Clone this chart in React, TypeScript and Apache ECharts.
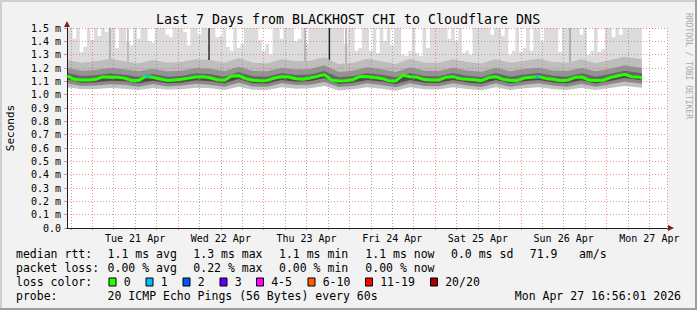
import React, { useEffect, useRef } from 'react';
import * as echarts from 'echarts';

const MONO = '"DejaVu Sans Mono", monospace';

const TITLE = 'Last 7 Days from BLACKHOST CHI to Cloudflare DNS';
const Y_NAME = 'Seconds';
const WATERMARK = 'RRDTOOL / TOBI OETIKER';

// x values are hours since Mon 20 Apr 2026 00:00
const START_HOUR = 16 + 56 / 60 + 1 / 3600;
const END_HOUR = START_HOUR + 168;

const dayLabels = ['Tue 21 Apr', 'Wed 22 Apr', 'Thu 23 Apr', 'Fri 24 Apr', 'Sat 25 Apr', 'Sun 26 Apr', 'Mon 27 Apr'];
const dayLabelHours = [36, 60, 84, 108, 132, 156, 180];

// median rtt (ms)
const medianHours = [
  17, 19, 21, 23, 25, 27, 29, 31, 33, 35, 37, 39, 41, 43, 45, 47, 49, 51, 53, 55,
  57, 59, 61, 63, 65, 67, 69, 71, 73, 75, 77, 79, 81, 83, 85, 87, 89, 91, 93, 95,
  97, 99, 101, 103, 105, 107, 109, 111, 113, 115, 117, 119, 121, 123, 125, 127, 129, 131, 133, 135,
  137, 139, 141, 143, 145, 147, 149, 151, 153, 155, 157, 159, 161, 163, 165, 167, 169, 171, 173, 175,
  177, 177.9,
];
const medianMs = [
  1.14, 1.115, 1.11, 1.11, 1.115, 1.133, 1.13, 1.13, 1.124, 1.106, 1.107, 1.137, 1.13, 1.117, 1.107, 1.11, 1.115, 1.124, 1.133, 1.135,
  1.127, 1.112, 1.108, 1.14, 1.142, 1.12, 1.108, 1.105, 1.107, 1.125, 1.135, 1.132, 1.12, 1.115, 1.125, 1.137, 1.15, 1.11, 1.103, 1.104,
  1.112, 1.137, 1.135, 1.128, 1.122, 1.105, 1.103, 1.145, 1.135, 1.13, 1.113, 1.11, 1.11, 1.13, 1.135, 1.12, 1.115, 1.112, 1.105, 1.128,
  1.135, 1.115, 1.107, 1.107, 1.125, 1.13, 1.135, 1.122, 1.115, 1.107, 1.108, 1.128, 1.133, 1.11, 1.106, 1.108, 1.128, 1.14, 1.152, 1.135,
  1.132, 1.125,
];

// highest ping of each step (smoke top), ms
const maxHours = [
  17, 18, 19, 20, 21, 22, 23, 24, 25, 26, 27, 28, 29, 30, 31, 32, 33, 34, 35, 36,
  37, 38, 39, 40, 41, 42, 43, 44, 45, 46, 47, 48, 49, 50, 51, 52, 53, 54, 55, 56,
  57, 58, 59, 60, 61, 62, 63, 64, 65, 66, 67, 68, 69, 70, 71, 72, 73, 74, 75, 76,
  77, 78, 79, 80, 81, 82, 83, 84, 85, 86, 87, 88, 89, 90, 91, 92, 93, 94, 95, 96,
  97, 98, 99, 100, 101, 102, 103, 104, 105, 106, 107, 108, 109, 110, 111, 112, 113, 114, 115, 116,
  117, 118, 119, 120, 121, 122, 123, 124, 125, 126, 127, 128, 129, 130, 131, 132, 133, 134, 135, 136,
  137, 138, 139, 140, 141, 142, 143, 144, 145, 146, 147, 148, 149, 150, 151, 152, 153, 154, 155, 156,
  157, 158, 159, 160, 161, 162, 163, 164, 165, 166, 167, 168, 169, 170, 171, 172, 173, 174, 175, 176,
  177, 177.9,
];
const maxMs = [
  1.6, 1.6, 1.42, 1.6, 1.32, 1.36, 1.6, 1.41, 1.6, 1.44, 1.6, 1.47, 1.6, 1.6, 1.35, 1.6, 1.6, 1.4, 1.37, 1.6,
  1.42, 1.6, 1.6, 1.4, 1.39, 1.6, 1.6, 1.6, 1.45, 1.43, 1.6, 1.6, 1.6, 1.47, 1.37, 1.6, 1.6, 1.45, 1.6, 1.6,
  1.6, 1.6, 1.43, 1.44, 1.6, 1.36, 1.33, 1.6, 1.35, 1.38, 1.6, 1.6, 1.6, 1.6, 1.41, 1.33, 1.38, 1.3, 1.6, 1.6,
  1.42, 1.6, 1.6, 1.6, 1.4, 1.42, 1.6, 1.38, 1.6, 1.6, 1.6, 1.6, 1.6, 1.6, 1.6, 1.6, 1.6, 1.6, 1.38, 1.6,
  1.6, 1.33, 1.35, 1.6, 1.6, 1.33, 1.6, 1.31, 1.6, 1.4, 1.6, 1.37, 1.6, 1.6, 1.3, 1.29, 1.33, 1.6, 1.31, 1.29,
  1.6, 1.35, 1.6, 1.6, 1.6, 1.6, 1.6, 1.42, 1.6, 1.4, 1.6, 1.31, 1.33, 1.3, 1.6, 1.6, 1.6, 1.6, 1.6, 1.45,
  1.6, 1.6, 1.44, 1.6, 1.3, 1.33, 1.6, 1.32, 1.35, 1.6, 1.33, 1.6, 1.6, 1.4, 1.6, 1.6, 1.6, 1.6, 1.32, 1.6,
  1.6, 1.6, 1.6, 1.6, 1.45, 1.6, 1.3, 1.33, 1.6, 1.32, 1.34, 1.6, 1.6, 1.43, 1.6, 1.45, 1.6, 1.6, 1.6, 1.6,
  1.6, 1.6,
];

// smoke band boundaries, ms
const bandHours = [
  17, 21, 25, 29, 33, 37, 41, 45, 49, 53, 57, 61, 65, 69, 73, 77, 81, 85, 89, 93,
  97, 101, 105, 109, 113, 117, 121, 125, 129, 133, 137, 141, 145, 149, 153, 157, 161, 165, 169, 173,
  177.9,
];
const upperMidMs = [
  1.26, 1.24, 1.25, 1.27, 1.25, 1.235, 1.26, 1.24, 1.245, 1.265, 1.26, 1.24, 1.275, 1.24, 1.235, 1.265, 1.25, 1.255, 1.28, 1.23,
  1.24, 1.27, 1.25, 1.23, 1.27, 1.24, 1.24, 1.265, 1.245, 1.235, 1.265, 1.24, 1.255, 1.27, 1.245, 1.24, 1.265, 1.235, 1.26, 1.285,
  1.265,
];
const upperDarkMs = [
  1.2, 1.18, 1.185, 1.2, 1.19, 1.175, 1.195, 1.175, 1.18, 1.2, 1.195, 1.175, 1.21, 1.178, 1.175, 1.2, 1.188, 1.192, 1.22, 1.17,
  1.18, 1.205, 1.19, 1.17, 1.205, 1.18, 1.178, 1.202, 1.182, 1.172, 1.202, 1.175, 1.192, 1.202, 1.182, 1.178, 1.2, 1.175, 1.195, 1.22,
  1.2,
];
const upperNearMs = [
  1.165, 1.14, 1.145, 1.16, 1.15, 1.135, 1.155, 1.135, 1.14, 1.16, 1.155, 1.135, 1.17, 1.138, 1.135, 1.162, 1.148, 1.152, 1.178, 1.13,
  1.14, 1.162, 1.15, 1.13, 1.162, 1.14, 1.138, 1.162, 1.142, 1.132, 1.162, 1.135, 1.152, 1.162, 1.142, 1.135, 1.16, 1.135, 1.155, 1.18,
  1.16,
];
const lowerNearMs = [
  1.115, 1.09, 1.092, 1.105, 1.1, 1.085, 1.105, 1.085, 1.09, 1.108, 1.1, 1.085, 1.118, 1.085, 1.084, 1.11, 1.096, 1.1, 1.125, 1.08,
  1.09, 1.11, 1.098, 1.08, 1.11, 1.09, 1.088, 1.11, 1.092, 1.082, 1.11, 1.085, 1.1, 1.11, 1.092, 1.085, 1.108, 1.083, 1.103, 1.125,
  1.108,
];
const lowerMidMs = [
  1.085, 1.065, 1.068, 1.078, 1.075, 1.06, 1.08, 1.062, 1.068, 1.082, 1.075, 1.06, 1.09, 1.062, 1.06, 1.085, 1.072, 1.075, 1.095, 1.058,
  1.065, 1.085, 1.072, 1.055, 1.085, 1.065, 1.063, 1.085, 1.068, 1.058, 1.085, 1.06, 1.075, 1.085, 1.068, 1.06, 1.082, 1.06, 1.078, 1.098,
  1.082,
];
const lowestMs = [
  1.055, 1.04, 1.042, 1.05, 1.045, 1.035, 1.05, 1.038, 1.04, 1.052, 1.048, 1.035, 1.06, 1.037, 1.035, 1.055, 1.045, 1.048, 1.065, 1.032,
  1.04, 1.055, 1.045, 1.03, 1.055, 1.04, 1.038, 1.055, 1.042, 1.033, 1.055, 1.035, 1.048, 1.055, 1.042, 1.035, 1.052, 1.035, 1.05, 1.065,
  1.052,
];

// single steps with a very wide spread (dark smoke columns)
const spikeHours = [28.97, 34.0, 56.7, 83.6, 90.4, 95.05, 157.8];
const spikeTopMs = [1.5, 1.5, 1.5, 1.5, 1.5, 1.5, 1.5];
const spikeShades = ['#a6a6a6', '#b4b4b4', '#2a2a2a', '#a8a8a8', '#262626', '#a8a8a8', '#a0a0a0'];

// steps with 1/20 loss (median drawn blue)
const lossHours = [39.4, 148.6];
const lossMedianMs = [1.14, 1.134];

const lossLabels = ['0', '1', '2', '3', '4-5', '6-10', '11-19', '20/20'];
const lossColors = ['#26ff00', '#00b8ff', '#0059ff', '#5e00ff', '#ff00ff', '#ff5e00', '#ff0000', '#a10000'];
const lossBoxX = [109, 146, 183, 220, 256.5, 308, 365.5, 430.5];

const rttStats = ['1.1 ms avg', '1.3 ms max', '1.1 ms min', '1.1 ms now', '0.0 ms sd', '71.9', 'am/s'];
const rttStatX = [107.6, 193.3, 279, 365.3, 451, 529.8, 579];
const lossStats = ['0.00 % avg', '0.22 % max', '0.00 % min', '0.00 % now'];
const probeText = '20 ICMP Echo Pings (56 Bytes) every 60s';
const stampText = 'Mon Apr 27 16:56:01 2026';

const GRID_COLOR = 'rgba(143,143,143,0.75)';
const MGRID_COLOR = 'rgba(222,79,79,0.6)';
const ARROW_COLOR = '#801f1f';
const AXIS_COLOR = '#1f1f1f';

const pairs = (xs: number[], ys: number[]) => xs.map((x, i) => [x, ys[i]]);

function areaSeries(name: string, xs: number[], ys: number[], color: string, z: number, step?: string) {
  return {
    type: 'line',
    name,
    data: pairs(xs, ys),
    symbol: 'none',
    showSymbol: false,
    step: step || false,
    silent: true,
    z,
    lineStyle: { width: 0, color, opacity: 0 },
    areaStyle: { color, opacity: 1 },
  };
}

const minorHours: number[] = [];
for (let h = 18; h < END_HOUR; h += 6) if (h % 24 !== 0) minorHours.push(h);
const majorHours: number[] = [];
for (let h = 24; h < END_HOUR; h += 24) majorHours.push(h);
majorHours.push(END_HOUR);

function txt(text: string, x: number, y: number, size: number, extra: any = {}, styleExtra: any = {}) {
  return {
    type: 'text',
    x,
    y,
    silent: true,
    z: 20,
    ...extra,
    style: {
      text,
      fill: '#000',
      fontSize: size,
      fontFamily: MONO,
      textAlign: 'left',
      textVerticalAlign: 'middle',
      ...styleExtra,
    },
  };
}

function buildOption() {
  const graphic: any[] = [
    { type: 'rect', shape: { x: 0, y: 0, width: 697, height: 2 }, style: { fill: '#cfcfcf' }, silent: true, z: 20 },
    { type: 'rect', shape: { x: 0, y: 0, width: 2, height: 310 }, style: { fill: '#cfcfcf' }, silent: true, z: 20 },
    { type: 'rect', shape: { x: 0, y: 308, width: 697, height: 2 }, style: { fill: '#9e9e9e' }, silent: true, z: 21 },
    { type: 'rect', shape: { x: 695, y: 0, width: 2, height: 310 }, style: { fill: '#9e9e9e' }, silent: true, z: 21 },
    txt(TITLE, 348, 19, 13.3, {}, { textAlign: 'center' }),
    txt(Y_NAME, 10, 128, 11, { rotation: Math.PI / 2 }, { textAlign: 'center' }),
    txt(WATERMARK, 688, 13, 8, { rotation: -Math.PI / 2 }, { fill: '#a8a8a8' }),
    txt('median rtt:', 16, 254, 11.5),
    txt('packet loss:', 16, 268, 11.5),
    txt('loss color:', 16, 282, 11.5),
    txt('probe:', 16, 296, 11.5),
    txt(probeText, 107.6, 296, 11.5),
    txt(stampText, 681, 296, 11.5, {}, { textAlign: 'right' }),
  ];
  rttStats.forEach((s, i) => graphic.push(txt(s, rttStatX[i], 254, 11.5)));
  lossStats.forEach((s, i) => graphic.push(txt(s, rttStatX[i], 268, 11.5)));
  lossLabels.forEach((s, i) => {
    graphic.push({
      type: 'rect',
      shape: { x: lossBoxX[i], y: 278, width: 7, height: 8 },
      style: { fill: lossColors[i], stroke: '#000', lineWidth: 1 },
      silent: true,
      z: 20,
    });
    graphic.push(txt(s, lossBoxX[i] + 14.7, 282, 11.5));
  });

  const xBase = { type: 'value', position: 'bottom', min: START_HOUR, max: END_HOUR, gridIndex: 0 };
  const yBase = { type: 'value', position: 'left', min: 0, max: 1.5, gridIndex: 0 };

  return {
    animation: false,
    backgroundColor: '#f2f2f2',
    grid: {
      left: 67, top: 28, width: 600, height: 200,
      show: true, backgroundColor: '#ffffff', borderWidth: 0,
      containLabel: false, outerBoundsMode: 'none',
    },
    xAxis: [
      {
        ...xBase, z: 5,
        axisLine: { show: false },
        axisLabel: { show: false },
        axisTick: { show: true, length: 2, customValues: minorHours, lineStyle: { color: GRID_COLOR } },
        splitLine: { show: true, lineStyle: { color: GRID_COLOR, width: 1, type: [1, 2] } },
      },
      {
        ...xBase, z: 6,
        axisLine: {
          show: true, symbol: ['none', 'triangle'], symbolSize: [6, 6], symbolOffset: [0, 4],
          lineStyle: { color: ARROW_COLOR, width: 1 },
        },
        axisLabel: { show: false },
        axisTick: { show: true, length: 2, customValues: majorHours, lineStyle: { color: MGRID_COLOR } },
        splitLine: { show: true, lineStyle: { color: MGRID_COLOR, width: 1, type: [1, 2] } },
      },
      {
        ...xBase, z: 7,
        axisLine: { show: true, lineStyle: { color: AXIS_COLOR, width: 1 } },
        axisTick: { show: false },
        splitLine: { show: false },
        axisLabel: {
          show: true,
          customValues: dayLabelHours,
          formatter: (v: number) => {
            const i = dayLabelHours.indexOf(Math.round(v));
            return i >= 0 ? dayLabels[i] : '';
          },
          margin: 5,
          fontSize: 10,
          fontFamily: MONO,
          color: '#000',
        },
      },
    ],
    yAxis: [
      {
        ...yBase, interval: 0.1, z: 7,
        axisLine: { show: true, lineStyle: { color: AXIS_COLOR, width: 1 } },
        axisTick: { show: true, length: 3, lineStyle: { color: MGRID_COLOR } },
        axisLabel: {
          margin: 6, fontSize: 10, fontFamily: MONO, color: '#000',
          formatter: (v: number) => (Math.abs(v) < 1e-9 ? '0.0' : v.toFixed(1) + ' m'),
        },
        splitLine: { show: true, lineStyle: { color: MGRID_COLOR, width: 1, type: [1, 2] } },
      },
      {
        ...yBase, z: 6,
        axisLine: {
          show: true, symbol: ['none', 'triangle'], symbolSize: [6, 6], symbolOffset: [0, 4],
          lineStyle: { color: ARROW_COLOR, width: 1 },
        },
        axisTick: { show: false },
        axisLabel: { show: false },
        splitLine: { show: false },
      },
    ],
    series: [
      areaSeries('max', maxHours, maxMs, '#dcdcdc', 1, 'middle'),
      {
        type: 'bar',
        name: 'spikes',
        barWidth: 1.5,
        silent: true,
        z: 2,
        data: spikeHours.map((h, i) => ({ value: [h, spikeTopMs[i]], itemStyle: { color: spikeShades[i] } })),
      },
      areaSeries('upperMid', bandHours, upperMidMs, '#bdbdbd', 3),
      areaSeries('upperDark', bandHours, upperDarkMs, '#939393', 3),
      areaSeries('upperNear', bandHours, upperNearMs, '#676767', 3),
      areaSeries('medianFill', medianHours, medianMs, '#4c4c4c', 3),
      areaSeries('lowerNear', bandHours, lowerNearMs, '#8a8a8a', 3),
      areaSeries('lowerMid', bandHours, lowerMidMs, '#c2c2c2', 3),
      areaSeries('lowest', bandHours, lowestMs, '#ffffff', 3),
      {
        type: 'line',
        name: 'median',
        data: pairs(medianHours, medianMs),
        symbol: 'none',
        showSymbol: false,
        silent: true,
        z: 8,
        lineStyle: { width: 3, color: '#26ff00' },
      },
      {
        type: 'scatter',
        name: 'loss1',
        data: pairs(lossHours, lossMedianMs),
        symbol: 'rect',
        symbolSize: [4, 3],
        silent: true,
        z: 9,
        itemStyle: { color: '#00b8ff' },
      },
    ],
    graphic,
  };
}

export default function App() {
  const ref = useRef<HTMLDivElement>(null);
  useEffect(() => {
    if (!ref.current) return;
    const chart = echarts.init(ref.current, null, { renderer: 'svg', width: 697, height: 310 });
    chart.setOption(buildOption() as any);
    return () => chart.dispose();
  }, []);
  return (
    <div
      ref={ref}
      style={{ position: 'fixed', left: 0, top: 0, width: 697, height: 310 }}
    />
  );
}
